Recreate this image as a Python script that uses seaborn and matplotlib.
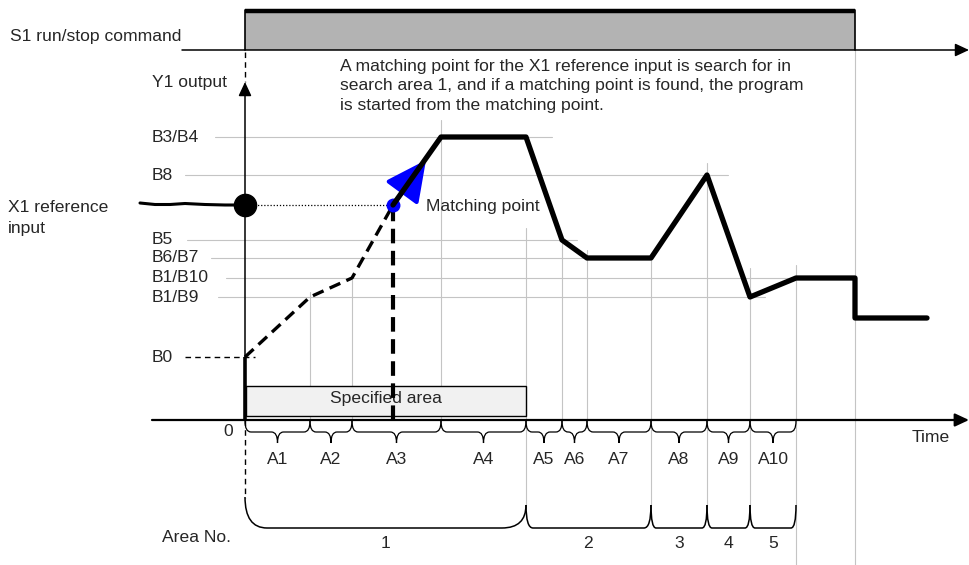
import matplotlib.pyplot as plt
import numpy as np
import pandas as pd
import seaborn as sns
from matplotlib.path import Path
from matplotlib.patches import PathPatch, Rectangle

sns.set_theme(style="white")
plt.rcParams['font.family'] = ['Liberation Sans', 'DejaVu Sans']

# ---- data (time / output units) ----
area_bounds = [0, 65, 107, 196, 281, 317, 342, 406, 462, 505, 551]   # A1..A10 limits
area_labels = ["A1", "A2", "A3", "A4", "A5", "A6", "A7", "A8", "A9", "A10"]
group_bounds = [0, 281, 406, 462, 505, 551]                          # area No. limits
group_labels = ["1", "2", "3", "4", "5"]
stop_time = 610
end_time = 682

level_labels = ["B3/B4", "B8", "B5", "B6/B7", "B1/B10", "B1/B9", "B0"]
level_values = [283, 245, 180, 162, 142, 123, 63]
x1_ref = 215
match_time = 148

# searched (dashed) part and real output
search_t = [0, 65, 107, match_time]
search_v = [63, 123, 142, x1_ref]
out_t = [match_time, 196, 281, 317, 342, 406, 462, 505, 551, stop_time, stop_time, end_time]
out_v = [x1_ref, 283, 283, 180, 162, 162, 245, 123, 142, 142, 102, 102]

# X1 reference input trace (before start)
x1_t = [-105, -90, -75, -60, -40, -20, 0]
x1_v = [217, 215.5, 215.5, 216.5, 215.5, 215, 215]

# ---- layout helpers (image pixel -> data) ----
X0, Y0 = 245, 420
def dx(px):
    return px - X0
def dy(py):
    return Y0 - py

fig = plt.figure(figsize=(9.69, 5.65), dpi=100)
ax = fig.add_axes([0, 0, 1, 1])
ax.set_xlim(dx(0), dx(969))
ax.set_ylim(dy(565), dy(0))
ax.axis('off')

grid = '#c4c4c4'
fs = 12.6

# S1 run/stop command
ax.add_patch(Rectangle((0, dy(50)), stop_time, 40, facecolor='#b3b3b3', edgecolor='none', zorder=1))
ax.plot([0, 0, stop_time, stop_time], [dy(50), dy(10), dy(10), dy(50)], color='black', lw=1.2, zorder=2)
ax.plot([0, stop_time], [dy(10.5), dy(10.5)], color='black', lw=3.2, zorder=2, solid_capstyle='butt')
arr = dict(arrowstyle='-|>,head_length=0.6,head_width=0.28', color='black', lw=1.1,
           mutation_scale=14, shrinkA=0, shrinkB=0)
ax.annotate('', xy=(dx(969), dy(50)), xytext=(dx(182), dy(50)), arrowprops=arr)
ax.text(dx(10), dy(37), "S1 run/stop command", fontsize=fs, va='center', ha='left')

# axes
ax.annotate('', xy=(dx(969), 0), xytext=(dx(152), 0),
            arrowprops=dict(arr, lw=1.6))
ax.annotate('', xy=(0, dy(82)), xytext=(0, 0), arrowprops=arr)
ax.plot([0, 0], [dy(52), dy(82)], color='black', lw=1, ls=(0, (4, 3)))
ax.plot([0, 0], [0, dy(498)], color='black', lw=1, ls=(0, (4, 3)))
ax.text(dx(152), dy(83), "Y1 output", fontsize=fs, va='center', ha='left')
ax.text(dx(228), dy(432), "0", fontsize=fs, va='center', ha='center')
ax.text(dx(912), dy(438), "Time", fontsize=fs, va='center', ha='left')

# level guide lines and labels
h_ranges = {"B3/B4": (215, 552), "B8": (185, 728), "B5": (187, 577), "B6/B7": (211, 651),
            "B1/B10": (226, 796), "B1/B9": (218, 765)}
for lab, v in zip(level_labels, level_values):
    ax.text(dx(152), v, lab, fontsize=fs, va='center', ha='left')
    if lab == "B0":
        ax.plot([dx(185), dx(255)], [v, v], color='black', lw=1, ls=(0, (4, 3)))
    else:
        a, b = h_ranges[lab]
        ax.plot([dx(a), dx(b)], [v, v], color=grid, lw=0.8, zorder=0)

# vertical guide lines at area limits
v_tops = [None, 128, 140, 300, 192, 185, 170, 162, 257, 152, 155]
v_bottoms = [None, 0, 0, 0, -85, 0, 0, -85, -85, -85, dy(565)]
for t, top, bot in zip(area_bounds, v_tops, v_bottoms):
    if top is None:
        continue
    ax.plot([t, t], [bot, top], color=grid, lw=0.8, zorder=0)
ax.plot([stop_time, stop_time], [dy(565), dy(50)], color=grid, lw=0.8, zorder=0)

# specified area box
ax.add_patch(Rectangle((1, dy(416)), area_bounds[4] - 1, 30, facecolor='#f1f1f1',
                       edgecolor='black', lw=1, zorder=2))
ax.text((area_bounds[0] + area_bounds[4]) / 2, dy(398), "Specified area", fontsize=fs,
        va='center', ha='center', zorder=3)

# X1 reference input
sns.lineplot(x=x1_t, y=x1_v, sort=False, estimator=None, color='black', lw=2.2, ax=ax)
ax.plot([0, match_time], [x1_ref, x1_ref], color='black', lw=0.9, ls=(0, (1, 1.5)))
ax.plot([0], [x1_ref], 'o', color='black', ms=16, zorder=6)
ax.text(dx(8), dy(208), "X1 reference", fontsize=fs, va='center', ha='left')
ax.text(dx(8), dy(228), "input", fontsize=fs, va='center', ha='left')

# output: start jump, searched path, matching point, real output
ax.plot([0, 0], [0, search_v[0]], color='black', lw=2.6, solid_capstyle='butt', zorder=5)
sns.lineplot(x=search_t, y=search_v, sort=False, estimator=None, color='black', lw=2.4,
             ls=(0, (3.5, 2)), ax=ax, zorder=4)
ax.plot([match_time, match_time], [0, x1_ref], color='black', lw=3, ls=(0, (3.5, 1.8)), zorder=4)
ax.annotate('', xy=(dx(426), dy(160)), xytext=(match_time, x1_ref),
            arrowprops=dict(arrowstyle='-|>,head_length=1.25,head_width=0.62', color='blue',
                            lw=3, mutation_scale=20, shrinkA=0, shrinkB=0), zorder=5)
ax.plot([match_time], [x1_ref], 'o', color='blue', ms=9, zorder=6)
sns.lineplot(x=out_t, y=out_v, sort=False, estimator=None, color='black', lw=3.8, ax=ax, zorder=7)
ax.text(dx(426), dy(207), "Matching point", fontsize=fs, va='center', ha='left')

# paragraph
para = ["A matching point for the X1 reference input is search for in",
        "search area 1, and if a matching point is found, the program",
        "is started from the matching point."]
for i, line in enumerate(para):
    ax.text(dx(340), dy(66 + 19.6 * i), line, fontsize=fs, va='center', ha='left')

# small braces under the time axis
M, C, L = Path.MOVETO, Path.CURVE3, Path.LINETO
def small_brace(t0, t1, r=6, top=-1, mid=-12, tip=-23):
    tm = (t0 + t1) / 2
    verts = [(t0, top), (t0, mid), (t0 + r, mid), (tm - r, mid), (tm, mid), (tm, tip),
             (tm, mid), (tm + r, mid), (t1 - r, mid), (t1, mid), (t1, top)]
    codes = [M, C, C, L, C, C, C, C, L, C, C]
    ax.add_patch(PathPatch(Path(verts, codes), fill=False, lw=0.9, edgecolor='black'))

for i, lab in enumerate(area_labels):
    t0, t1 = area_bounds[i], area_bounds[i + 1]
    small_brace(t0, t1)
    ax.text((t0 + t1) / 2, dy(460), lab, fontsize=fs, va='center', ha='center')

# area No. brackets
def big_brace(t0, t1, r0, r1, start=-85, bottom=-108):
    verts = [(t0, start), (t0, bottom), (t0 + r0, bottom), (t1 - r1, bottom), (t1, bottom), (t1, -85)]
    codes = [M, C, C, L, C, C]
    ax.add_patch(PathPatch(Path(verts, codes), fill=False, lw=1.1, edgecolor='black'))

radii = [(22, 24), (7, 7), (5, 5), (5, 5), (5, 5)]
for i, lab in enumerate(group_labels):
    t0, t1 = group_bounds[i], group_bounds[i + 1]
    r0, r1 = radii[i]
    big_brace(t0, t1, r0, r1, start=dy(497) if i == 0 else -85)
    ax.text((t0 + t1) / 2, dy(543), lab, fontsize=fs, va='center', ha='center')
ax.text(dx(162), dy(537), "Area No.", fontsize=fs, va='center', ha='left')

fig.savefig('out.png', dpi=100)
